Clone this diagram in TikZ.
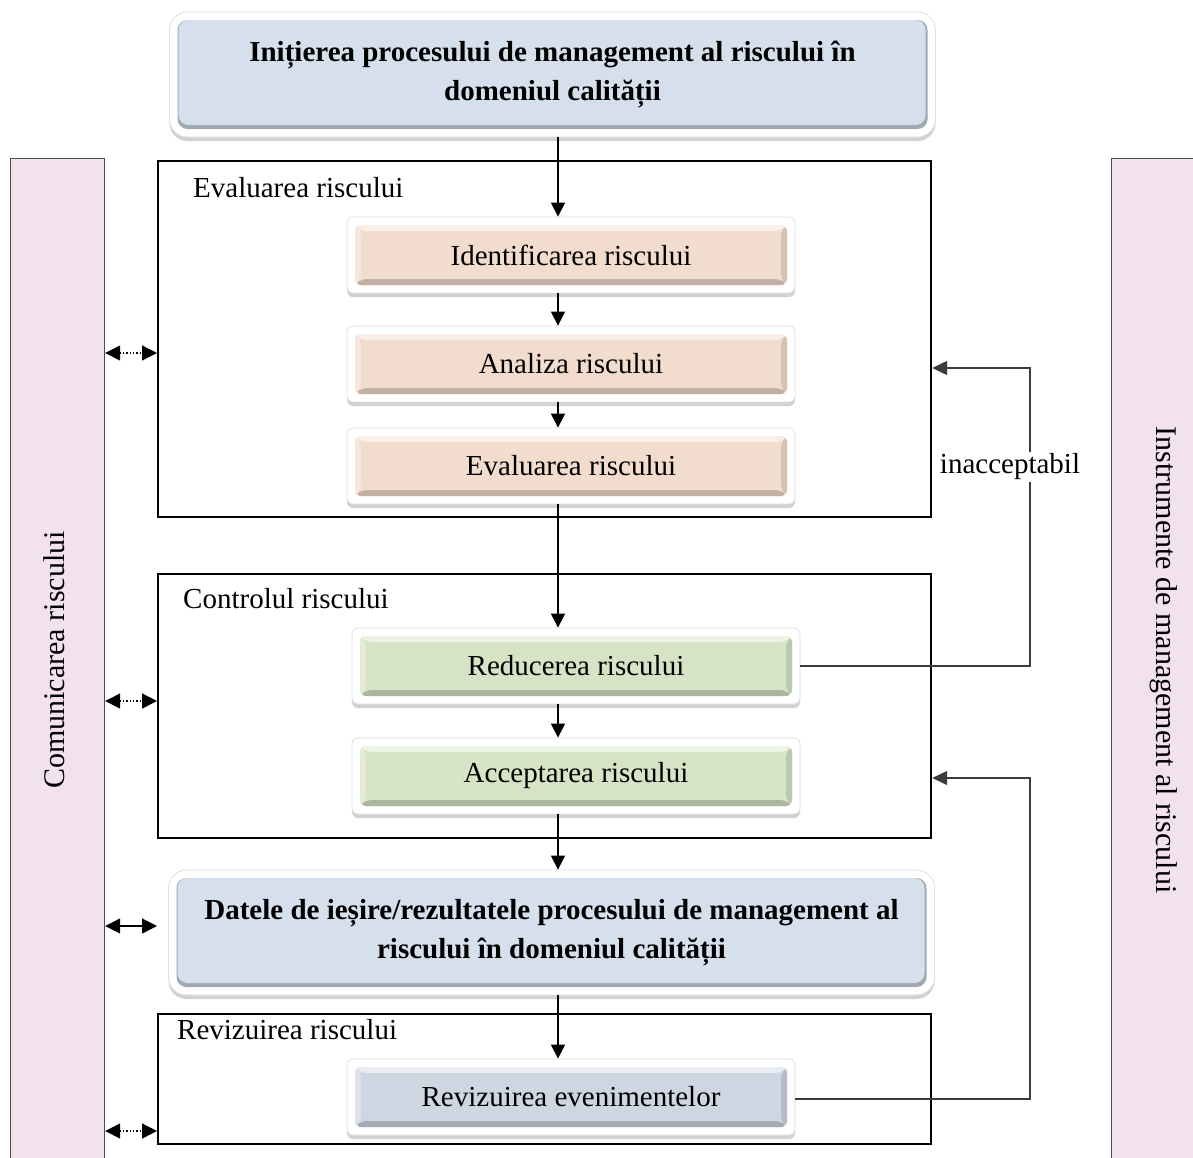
\documentclass[tikz,border=0pt]{standalone}
\usepackage{fontspec}
\setmainfont{Liberation Serif}
\usetikzlibrary{arrows.meta,shadows,calc}
\definecolor{blueF}{RGB}{214,224,237}
\definecolor{peachF}{RGB}{242,220,206}
\definecolor{greenF}{RGB}{215,227,197}
\definecolor{greyF}{RGB}{206,214,226}
\definecolor{pinkF}{RGB}{242,226,238}
\definecolor{fbline}{RGB}{60,60,60}
\newcommand\bevelfill[1]{%
  \coordinate (bA) at ([shift={(8pt,-8pt)}]path picture bounding box.north west);
  \coordinate (bB) at ([shift={(-8pt,-8pt)}]path picture bounding box.north east);
  \coordinate (bC) at ([shift={(-8pt,8pt)}]path picture bounding box.south east);
  \coordinate (bD) at ([shift={(8pt,8pt)}]path picture bounding box.south west);
  \fill[#1] (bA) rectangle (bC);
  \fill[#1!45!white] (bA) -- (bB) -- ([shift={(-6pt,-6pt)}]bB) -- ([shift={(6pt,-6pt)}]bA) -- cycle;
  \fill[#1!70!white] (bA) -- ([shift={(6pt,-6pt)}]bA) -- ([shift={(6pt,6pt)}]bD) -- (bD) -- cycle;
  \fill[#1!80!black] (bD) -- (bC) -- ([shift={(-6pt,6pt)}]bC) -- ([shift={(6pt,6pt)}]bD) -- cycle;
  \fill[#1!88!black] (bB) -- (bC) -- ([shift={(-6pt,6pt)}]bC) -- ([shift={(-6pt,-6pt)}]bB) -- cycle;
}
\newcommand\roundfill[1]{%
  \fill[#1!75!black, rounded corners=10pt] ([shift={(8pt,-8pt)}]path picture bounding box.north west) rectangle ([shift={(-8pt,8pt)}]path picture bounding box.south east);
  \fill[#1, rounded corners=10pt] ([shift={(9pt,-8pt)}]path picture bounding box.north west) rectangle ([shift={(-10pt,12pt)}]path picture bounding box.south east);
}
\tikzset{
  frm/.style={fill=white, draw=gray!25, line width=0.8pt, rounded corners=#1,
    drop shadow={opacity=0.35, shadow xshift=0pt, shadow yshift=-4pt}},
  smallbox/.style={frm=6pt, minimum width=448pt, minimum height=76pt, inner sep=0pt,
    font=\fontsize{29}{34}\selectfont, path picture={\bevelfill{#1}}},
  bigbox/.style={frm=18pt, minimum width=766pt, minimum height=125pt, inner sep=0pt,
    align=center, font=\fontsize{29}{39}\selectfont\bfseries, path picture={\roundfill{#1}}},
  grp/.style={draw=black, line width=2.2pt, anchor=north west, inner sep=0pt},
  glabel/.style={anchor=west, font=\fontsize{29}{34}\selectfont, inner sep=0pt},
  bar/.style={draw=black!70, line width=1.2pt, fill=pinkF, anchor=north west, inner sep=0pt},
  flow/.style={-{Triangle[length=14pt,width=14pt]}, line width=1.3pt},
  side/.style={{Triangle[length=15pt,width=15pt]}-{Triangle[length=15pt,width=15pt]}, line width=1.3pt},
  fb/.style={-{Triangle[length=15pt,width=14pt]}, line width=1.3pt, draw=fbline},
}
\begin{document}
\begin{tikzpicture}[x=1pt,y=-1pt]
\useasboundingbox (0,0) rectangle (1193,1157);
\fill[white] (0,0) rectangle (1193,1157);
% side bars
\node[bar, minimum width=94pt, minimum height=1020pt] (lbar) at (10,158) {};
\node[bar, minimum width=100pt, minimum height=1020pt] (rbar) at (1111,158) {};
\node[rotate=90, font=\fontsize{30}{34}\selectfont] (ltxt) at (54,660) {Comunicarea riscului};
\node[rotate=-90, font=\fontsize{30}{34}\selectfont] (rtxt) at (1164,660) {Instrumente de management al riscului};
% group boxes
\node[grp, minimum width=773pt, minimum height=356pt] (g1) at (157,160) {};
\node[grp, minimum width=773pt, minimum height=264pt] (g2) at (157,573) {};
\node[grp, minimum width=773pt, minimum height=130pt] (g3) at (157,1013) {};
\node[glabel] (l1) at (193,188) {Evaluarea riscului};
\node[glabel] (l2) at (183,599) {Controlul riscului};
\node[glabel] (l3) at (177,1030) {Revizuirea riscului};
% main boxes
\node[bigbox=blueF] (init) at (552.5,74.5) {Inițierea procesului de management al riscului în\\domeniul calității};
\node[bigbox=blueF] (dat) at (551.5,932.5) {Datele de ieșire/rezultatele procesului de management al\\riscului în domeniul calității};
\node[smallbox=peachF] (id) at (571,255) {Identificarea riscului};
\node[smallbox=peachF] (an) at (571,364) {Analiza riscului};
\node[smallbox=peachF] (ev) at (571,466) {Evaluarea riscului};
\node[smallbox=greenF] (red) at (576,666) {Reducerea riscului};
\node[smallbox=greenF] (acc) at (576,776) {Acceptarea riscului};
\node[smallbox=greyF] (rev) at (571,1097) {Revizuirea evenimentelor};
% vertical flow
\draw[flow] (init.south -| 558,0) -- (id.north -| 558,0);
\draw[flow] (id.south -| 558,0) -- (an.north -| 558,0);
\draw[flow] (an.south -| 558,0) -- (ev.north -| 558,0);
\draw[flow] (ev.south -| 558,0) -- (red.north -| 558,0);
\draw[flow] (red.south -| 558,0) -- (acc.north -| 558,0);
\draw[flow] (acc.south -| 558,0) -- (dat.north -| 558,0);
\draw[flow] (dat.south -| 558,0) -- (rev.north -| 558,0);
% feedback
\coordinate (c1) at (1030,666);
\coordinate (c2) at (1030,368);
\coordinate (c3) at (1030,1099);
\coordinate (c4) at (1030,778);
\draw[fb] (red.east |- c1) -- (c1) -- (c2) -- (g1.east |- c2);
\draw[fb] (rev.east |- c3) -- (c3) -- (c4) -- (g2.east |- c4);
\node[fill=white, font=\fontsize{29}{34}\selectfont, inner sep=2pt] (inacc) at (1010,467) {inacceptabil};
% side arrows
\draw[side, dotted] (lbar.east |- 0,353) -- (g1.west |- 0,353);
\draw[side, dotted] (lbar.east |- 0,701) -- (g2.west |- 0,701);
\draw[side] (lbar.east |- 0,926) -- (g1.west |- 0,926);
\draw[side, dotted] (lbar.east |- 0,1131) -- (g3.west |- 0,1131);
\end{tikzpicture}
\end{document}
